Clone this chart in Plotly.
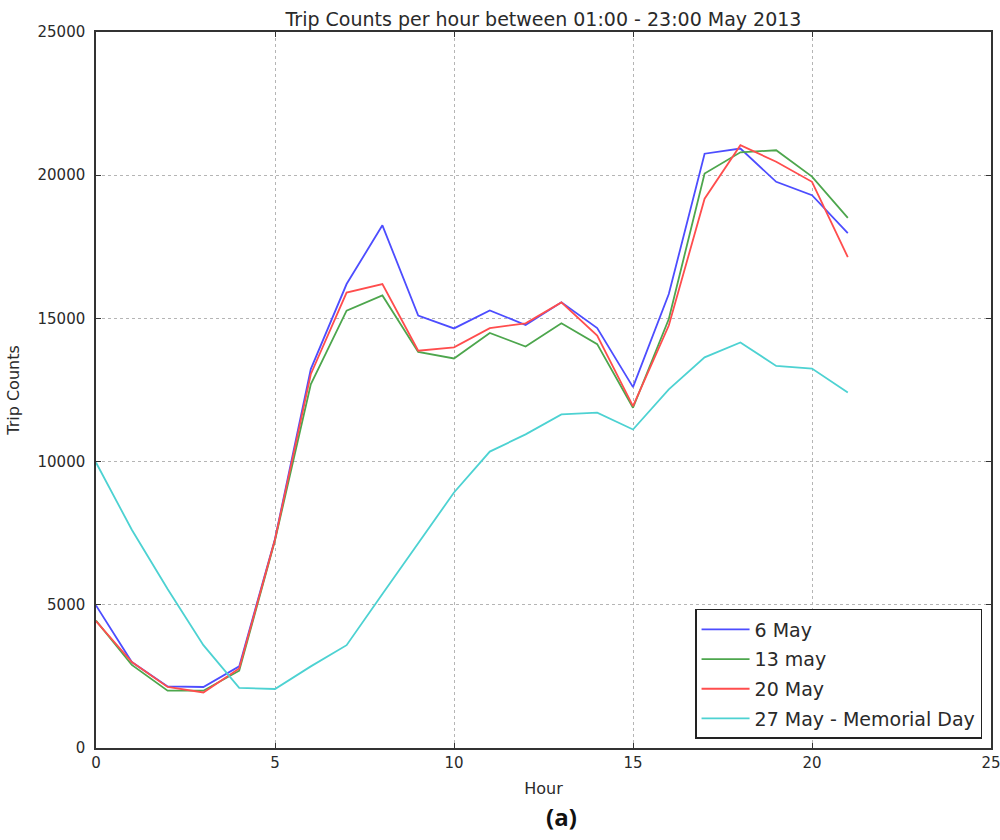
import plotly.graph_objects as go

hours = list(range(22))
may6 = [4980, 3000, 2150, 2130, 2850, 7300, 13230, 16200, 18250, 15100, 14650, 15280,
        14770, 15560, 14660, 12600, 15850, 20750, 20930, 19770, 19300, 17980]
may13 = [4450, 2900, 2000, 2000, 2700, 7250, 12700, 15270, 15800, 13830, 13600, 14490,
         14020, 14830, 14100, 11880, 14980, 20060, 20800, 20870, 19950, 18510]
may20 = [4430, 3000, 2130, 1940, 2780, 7280, 13050, 15900, 16200, 13870, 13990, 14660,
         14830, 15560, 14400, 11940, 14750, 19180, 21050, 20470, 19770, 17140]
may27 = [9970, 7620, 5550, 3590, 2100, 2060, 2850, 3590, 5380, 7150, 8920, 10350,
         10950, 11650, 11710, 11120, 12520, 13640, 14160, 13340, 13250, 12410]

series = [
    ("6 May", may6, "#4d4dff"),
    ("13 may", may13, "#4da64d"),
    ("20 May", may20, "#ff4d4d"),
    ("27 May - Memorial Day", may27, "#4dd2d2"),
]

FONT = "DejaVu Sans"
TXT = "#2a2a2a"

fig = go.Figure()
for i, (name, vals, col) in enumerate(series):
    fig.add_trace(go.Scatter(x=hours, y=vals, mode="lines", name=name,
                             legendgroup=f"g{i}",
                             line=dict(color=col, width=1.8)))

fig.update_layout(
    width=1000, height=840,
    margin=dict(l=96, r=9, t=32, b=92, autoexpand=False),
    paper_bgcolor="white", plot_bgcolor="white",
    font=dict(family=FONT, size=15, color=TXT),
    title=dict(text="Trip Counts per hour between 01:00 - 23:00 May 2013",
               x=(96 + 991) / 2 / 1000, xanchor="center",
               y=1 - 19 / 840, yanchor="middle",
               font=dict(family=FONT, size=19, color=TXT)),
    showlegend=True,
    legend=dict(x=0.99, xanchor="right", y=0.0126, yanchor="bottom",
                bgcolor="white", bordercolor="#222222", borderwidth=1.5,
                font=dict(family=FONT, size=19, color=TXT),
                traceorder="grouped", tracegroupgap=2,
                itemwidth=48),
)

fig.update_xaxes(
    range=[0, 25], dtick=5, tick0=0, tickformat="d", automargin=False,
    ticklabeloverflow="allow",
    showline=True, linecolor="#333333", linewidth=1.5, mirror="ticks",
    ticks="inside", ticklen=5, tickcolor="#333333",
    showgrid=True, gridcolor="#b5b5b5", griddash="dot", gridwidth=1,
    zeroline=False,
    title=dict(text="Hour", standoff=12, font=dict(family=FONT, size=16)),
    tickfont=dict(family=FONT, size=15),
)
fig.update_yaxes(
    range=[0, 25000], dtick=5000, tick0=0, tickformat="d", automargin=False,
    ticklabeloverflow="allow",
    showline=True, linecolor="#333333", linewidth=1.5, mirror="ticks",
    ticks="inside", ticklen=5, tickcolor="#333333",
    showgrid=True, gridcolor="#b5b5b5", griddash="dot", gridwidth=1,
    zeroline=False,
    title=dict(text="Trip Counts", standoff=14, font=dict(family=FONT, size=16)),
    tickfont=dict(family=FONT, size=15),
    ticklabelstandoff=6,
)

fig.add_annotation(text="<b>(a)</b>", xref="paper", yref="paper",
                   x=(561 - 96) / 895, y=-(816 - 748) / 716,
                   xanchor="center", yanchor="middle", showarrow=False,
                   font=dict(family="Open Sans", size=24, color="#111111"))

fig.write_html("out.html",
               config={"displayModeBar": False},
               post_script="document.body.style.margin='0';"
                           "document.body.style.overflow='hidden';")
